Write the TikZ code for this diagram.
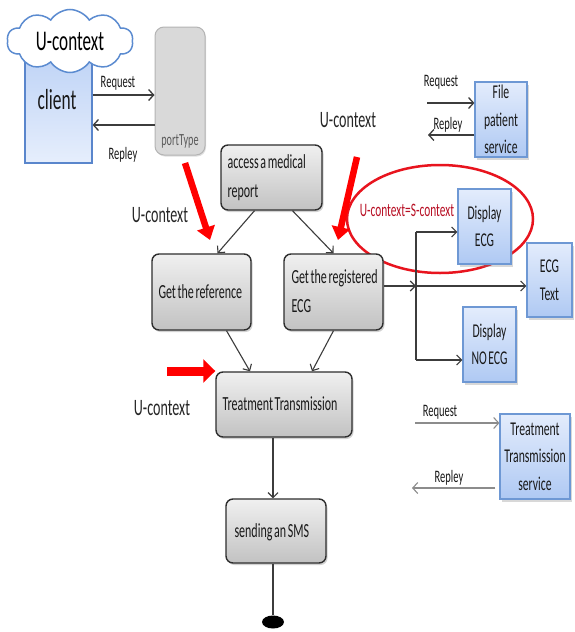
\documentclass[tikz,border=0pt]{standalone}
\usepackage{fontspec}
\setmainfont[FakeStretch=0.6, WordSpace=0.6]{Carlito}
\usetikzlibrary{arrows.meta,shapes.symbols,shapes.geometric,shadows,calc}

\newcommand\setfs[2]{\fontsize{#1}{#2}\selectfont}

\definecolor{boxline}{HTML}{2E2E2E}
\definecolor{graytop}{HTML}{F0F0F0}
\definecolor{graybot}{HTML}{C2C2C2}
\definecolor{blueline}{HTML}{6E98D4}
\definecolor{bluetop}{HTML}{E3ECFC}
\definecolor{bluebot}{HTML}{AFC9F3}
\definecolor{clienttop}{HTML}{BED3F6}
\definecolor{clientbot}{HTML}{E6EEFC}
\definecolor{clientline}{HTML}{5A86CC}
\definecolor{cloudline}{HTML}{5B8BD0}
\definecolor{portfill}{HTML}{D9D9D9}
\definecolor{portline}{HTML}{B4B4B4}
\definecolor{porttext}{HTML}{5A5A5A}
\definecolor{darkarrow}{HTML}{3C3C3C}
\definecolor{lightarrow}{HTML}{8C8C8C}
\definecolor{ctxred}{HTML}{B80F24}
\definecolor{ringred}{HTML}{E8141E}

\tikzset{
  graybox/.style={draw=boxline, line width=1.4pt, rounded corners=7pt,
    top color=graytop, bottom color=graybot,
    drop shadow={shadow xshift=1.5pt, shadow yshift=-2pt, opacity=0.35},
    inner sep=0pt},
  boxtext/.style={anchor=west, align=left, inner sep=0pt, text=black!90,
    font=\setfs{20}{28.5}},
  bluebox/.style={draw=blueline, line width=1.2pt,
    top color=bluetop, bottom color=bluebot,
    drop shadow={shadow xshift=2pt, shadow yshift=-2.5pt, opacity=0.3},
    align=center, inner sep=0pt, text=black!90, font=\setfs{19.5}{27.5}},
  arr/.style={draw=darkarrow, line width=1.3pt,
    -{Straight Barb[length=5pt,width=11pt,line width=1.3pt]}},
  lightarr/.style={draw=lightarrow, line width=1.1pt,
    -{Straight Barb[length=5pt,width=11pt,line width=1.1pt]}},
  flow/.style={draw=darkarrow, line width=1.1pt,
    -{Straight Barb[length=5pt,width=10pt,line width=1.1pt]}},
  redarr/.style={draw=red, line width=6.5pt,
    -{Triangle[length=13pt,width=18pt]}, fill=red},
  msg/.style={font=\setfs{17.5}{20}, text=black!90, inner sep=0pt},
  ctx/.style={font=\setfs{23.5}{26}, text=black!85, inner sep=0pt},
}

\begin{document}
\begin{tikzpicture}[x=1pt,y=-1pt]
  \useasboundingbox[fill=white] (0,0) rectangle (574,632);

  % client with its context cloud
  \node[draw=clientline, line width=1.2pt, top color=clienttop, bottom color=clientbot,
        minimum width=67pt, minimum height=110pt, inner sep=0pt] (client) at (58.5,108) {};
  \node[font=\setfs{29}{30}, text=black!90, inner sep=0pt] (clienttxt) at (57,100) {client};
  \node[cloud, draw=cloudline, fill=white, line width=1.5pt, cloud puffs=10,
        cloud puff arc=115, aspect=2.0, minimum width=126pt, minimum height=63pt,
        inner sep=0pt, font=\setfs{28.5}{30}] (ucloud) at (70,41) {U-context};

  % port type
  \node[draw=portline, line width=1pt, fill=portfill, rounded corners=9pt,
        drop shadow={shadow xshift=1pt, shadow yshift=-1.5pt, opacity=0.25},
        minimum width=50pt, minimum height=128pt, inner sep=0pt] (port) at (180,91) {};
  \node[font=\setfs{17}{18}, text=porttext, inner sep=0pt] (porttxt) at (180,141) {portType};

  % request / reply between client and port type
  \draw[arr] (client.east |- 0,95) -- (port.west |- 0,95);
  \draw[arr] (port.west |- 0,125) -- (client.east |- 0,125);
  \node[msg] (req1) at (118,83) {Request};
  \node[msg] (rep1) at (123,155) {Repley};

  % context ring
  \node[ellipse, draw=ringred, line width=2.5pt, minimum width=186pt,
        minimum height=108pt, inner sep=0pt] (ring) at (440,219) {};
  \node[font=\setfs{19}{22}, text=ctxred, inner sep=0pt] (ctxeq) at (407,210) {U-context=S-context};

  % activities
  \node[graybox, minimum width=101pt, minimum height=65pt] (access) at (271.5,177.5) {};
  \node[boxtext] (accesstxt) at ($(access.west)+(7,0)$) {access a medical\\report};
  \node[graybox, minimum width=99pt, minimum height=76pt] (getref) at (201.5,292) {};
  \node[boxtext] (getreftxt) at ($(getref.west)+(7,0)$) {Get the reference};
  \node[graybox, minimum width=99pt, minimum height=76pt] (getecg) at (333.5,292) {};
  \node[boxtext] (getecgtxt) at ($(getecg.west)+(8,-1)$) {Get the registered\\ECG};
  \node[graybox, minimum width=136pt, minimum height=65pt] (treat) at (284,404.5) {};
  \node[boxtext] (treattxt) at ($(treat.west)+(7,-1)$) {Treatment Transmission};
  \node[graybox, minimum width=100pt, minimum height=64pt] (sms) at (276,531) {};
  \node[boxtext] (smstxt) at ($(sms.west)+(9,1)$) {sending an SMS};
  \node[ellipse, fill=black, minimum width=22pt, minimum height=13pt, inner sep=0pt] (endpt) at (273,622) {};

  % services
  \node[bluebox, minimum width=52pt, minimum height=75pt] (filesvc) at (501,119.5) {File\\patient\\service};
  \node[bluebox, minimum width=53pt, minimum height=75pt] (dispecg) at (484.5,226.5) {Display\\ECG};
  \node[bluebox, minimum width=45pt, minimum height=74pt] (ecgtext) at (549.5,280) {ECG\\Text};
  \node[bluebox, minimum width=53pt, minimum height=75pt] (dispno) at (489.5,344.5) {Display\\NO ECG};
  \node[bluebox, minimum width=70pt, minimum height=85pt] (treatsvc) at (535,456.5) {Treatment\\Transmission\\service};

  % messages of the file patient service
  \coordinate (fq) at (427,103);
  \coordinate (fr) at (428,135);
  \draw[arr] (fq) -- (filesvc.west |- fq);
  \draw[arr] (filesvc.west |- fr) -- (fr);
  \node[msg] (req2) at (441,82) {Request};
  \node[msg] (rep2) at (448,125) {Repley};

  % messages of the treatment transmission service
  \coordinate (tq) at (415,423);
  \coordinate (tr) at (412,488);
  \draw[lightarr] (tq) -- (treatsvc.west |- tq);
  \draw[lightarr] ($(treatsvc.west |- tr)+(-4,0)$) -- (tr);
  \node[msg] (req3) at (440,412) {Request};
  \node[msg] (rep3) at (449,478) {Repley};

  % control flow
  \draw[flow] ($(access.south)+(-17,0)$) -- ($(getref.north)+(16,0)$);
  \draw[flow] ($(access.south)+(21,0)$) -- (getecg.north);
  \draw[flow] ($(getref.south)+(25,0)$) -- ($(treat.north)+(-34,0)$);
  \draw[flow] (getecg.south) -- ($(treat.north)+(28,0)$);
  \draw[flow] (treat.south -| endpt) -- (sms.north -| endpt);
  \draw[draw=darkarrow, line width=1.1pt] (sms.south -| endpt) -- (endpt.north);

  % branching on the registered ECG
  \coordinate (jn) at (416,286);
  \coordinate (jtop) at (416,232);
  \coordinate (jbot) at (416,360);
  \draw[flow] (getecg.east |- jn) -- (jn);
  \draw[flow] (jn) -- (ecgtext.west |- jn);
  \draw[draw=darkarrow, line width=1.1pt] (jtop) -- (jbot);
  \draw[flow] (jtop) -- (dispecg.west |- jtop);
  \draw[flow] (jbot) -- (dispno.west |- jbot);

  % context labels and their pointers
  \node[ctx] (ctxtop) at (348,120) {U-context};
  \node[ctx] (ctxleft) at (160,215) {U-context};
  \node[ctx] (ctxlow) at (162,408) {U-context};
  \coordinate (r1a) at (185,163);
  \coordinate (r1b) at (210,240);
  \coordinate (r2a) at (357,157);
  \coordinate (r2b) at (338,240);
  \coordinate (r3a) at (167,371);
  \draw[redarr] (r1a) -- (r1b);
  \draw[redarr] (r2a) -- (r2b);
  \draw[redarr, line width=9pt, -{Triangle[length=12pt,width=23pt]}] (r3a) -- (treat.west |- r3a);
\end{tikzpicture}
\end{document}
